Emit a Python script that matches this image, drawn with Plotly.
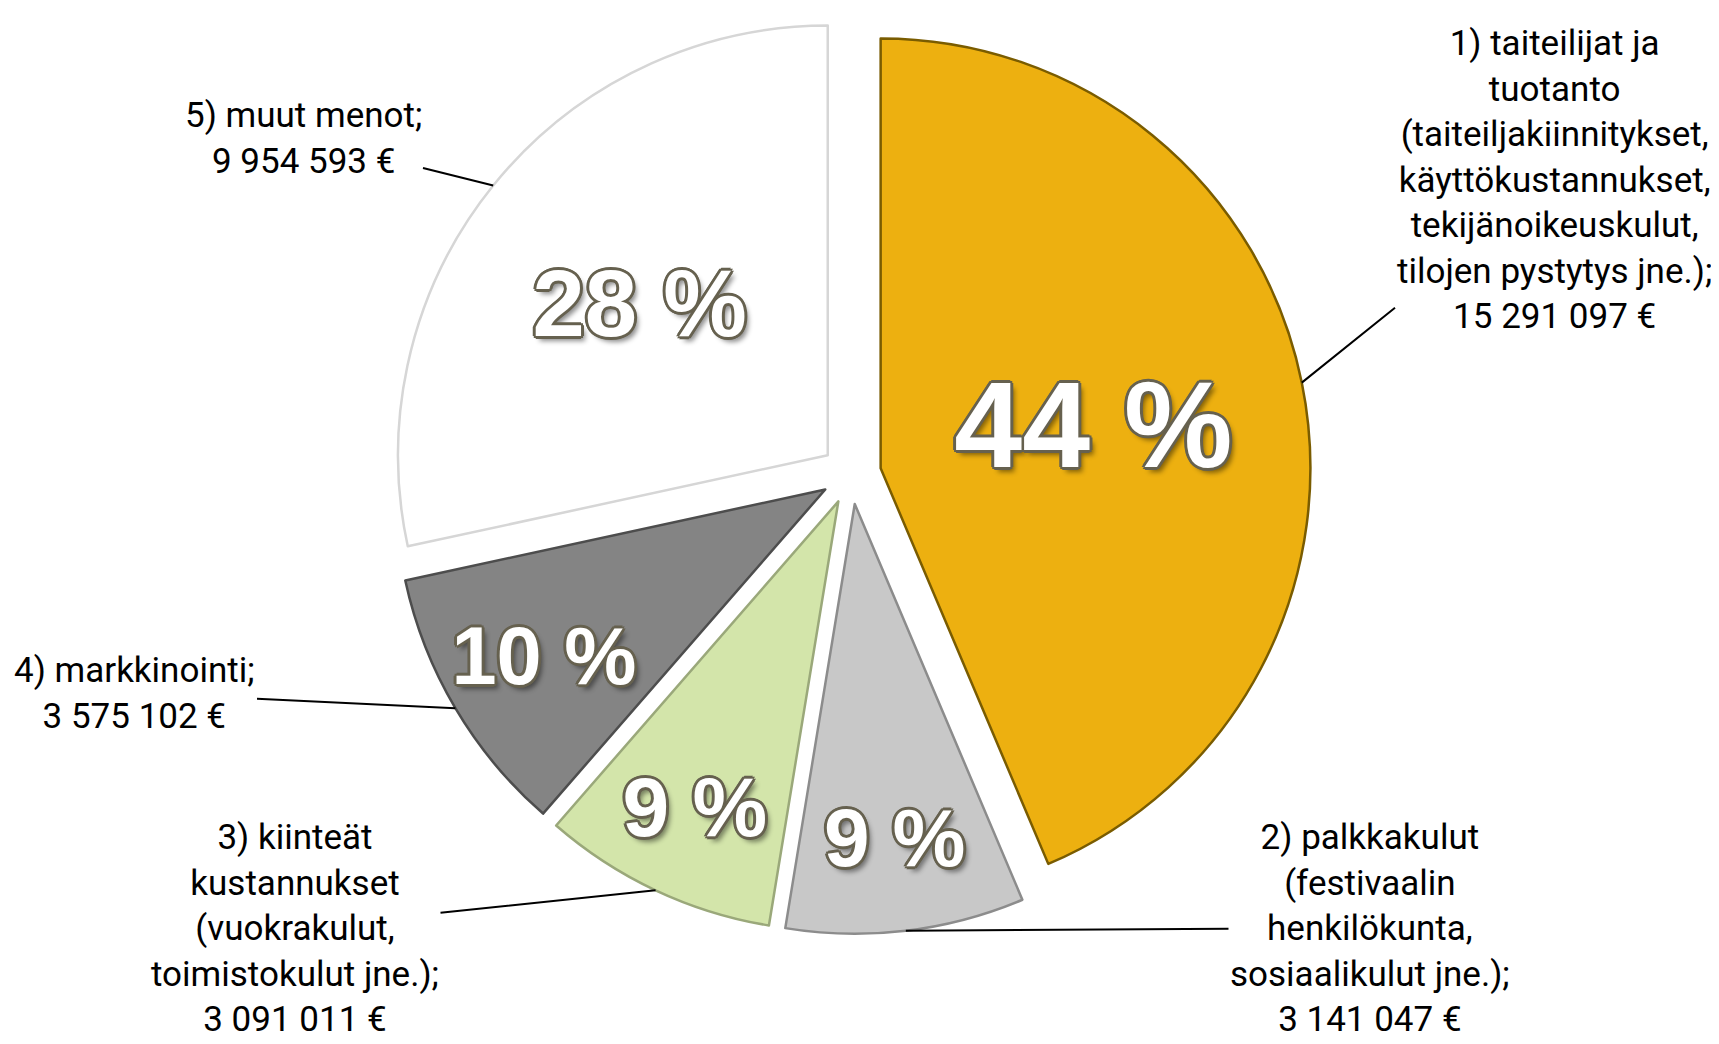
import math
import plotly.graph_objects as go

# ---- data ----
categories = [
    "1) taiteilijat ja<br>tuotanto<br>(taiteiljakiinnitykset,<br>käyttökustannukset,<br>tekijänoikeuskulut,<br>tilojen pystytys jne.)",
    "2) palkkakulut<br>(festivaalin<br>henkilökunta,<br>sosiaalikulut jne.)",
    "3) kiinteät<br>kustannukset<br>(vuokrakulut,<br>toimistokulut jne.)",
    "4) markkinointi",
    "5) muut menot",
]
values = [15291097, 3141047, 3091011, 3575102, 9954593]

# ---- styles / layout ----
W, H = 1719, 1044
slice_colors = ["#EDB010", "#C8C8C8", "#D3E5AA", "#848484", "#FFFFFF"]
edge_colors = ["#7a5c00", "#8c8c8c", "#9aa87a", "#4d4d4d", "#d6d6d6"]
pct_sizes = [122, 82, 84, 82, 94]
PULL = 0.07
domain = dict(x=[0.223, 0.758], y=[0.113, 0.994])
# label text centres (pixels from top-left of the figure)
label_pos = [(1546, 172), (1362, 920), (287, 920), (127, 685), (295, 130)]

total = sum(values)
pct_text = [f"{round(v / total * 100)} %" for v in values]

outline = "#66614f"
shadow = ", ".join(
    f"{dx}px {dy}px 0 {outline}" for dx, dy in
    [(-2, -2), (2, -2), (-2, 2), (2, 2), (0, -3), (0, 3), (-3, 0), (3, 0)]
) + ", 4px 5px 5px rgba(0,0,0,0.45)"

fig = go.Figure()
fig.add_trace(go.Pie(
    labels=categories,
    values=values,
    text=pct_text,
    textinfo="text",
    textposition="inside",
    insidetextorientation="horizontal",
    sort=False,
    direction="clockwise",
    rotation=0,
    pull=[PULL] * len(values),
    domain=domain,
    marker=dict(colors=slice_colors, line=dict(color=edge_colors, width=2.5)),
    textfont=dict(family="Liberation Sans, Arial, sans-serif", size=pct_sizes,
                  color="#ffffff", weight="bold", shadow=shadow),
    showlegend=False,
    hoverinfo="skip",
))

# pie geometry as plotly computes it (domain box, radius shrunk by pull)
box_w = W * (domain["x"][1] - domain["x"][0])
box_h = H * (domain["y"][1] - domain["y"][0])
r = min(box_w, box_h) / (2 + 2 * PULL)
cx = W * (domain["x"][0] + domain["x"][1]) / 2
cy = H * (1 - domain["y"][0]) - box_h / 2

annotations = []
cum = 0
for cat, v, (lx, ly) in zip(categories, values, label_pos):
    mid = 2 * math.pi * (cum + v / 2) / total
    cum += v
    d = r * (1 + PULL)
    tx = cx + d * math.sin(mid)
    ty = cy - d * math.cos(mid)
    text = f"{cat};<br>" + f"{v:,}".replace(",", " ") + " €"
    annotations.append(dict(
        x=tx / W, y=1 - ty / H, xref="paper", yref="paper",
        ax=lx - tx, ay=ly - ty,
        text=text, showarrow=True, arrowhead=0, arrowwidth=2,
        arrowcolor="#000000", standoff=0, startstandoff=0,
        align="center", xanchor="center", yanchor="middle",
        font=dict(family="Roboto, Arial, sans-serif", size=35, color="#000000"),
    ))

fig.update_layout(
    width=W,
    height=H,
    margin=dict(l=0, r=0, t=0, b=0, autoexpand=False),
    paper_bgcolor="#ffffff",
    plot_bgcolor="#ffffff",
    showlegend=False,
    annotations=annotations,
)

fig.write_html("out.html")
